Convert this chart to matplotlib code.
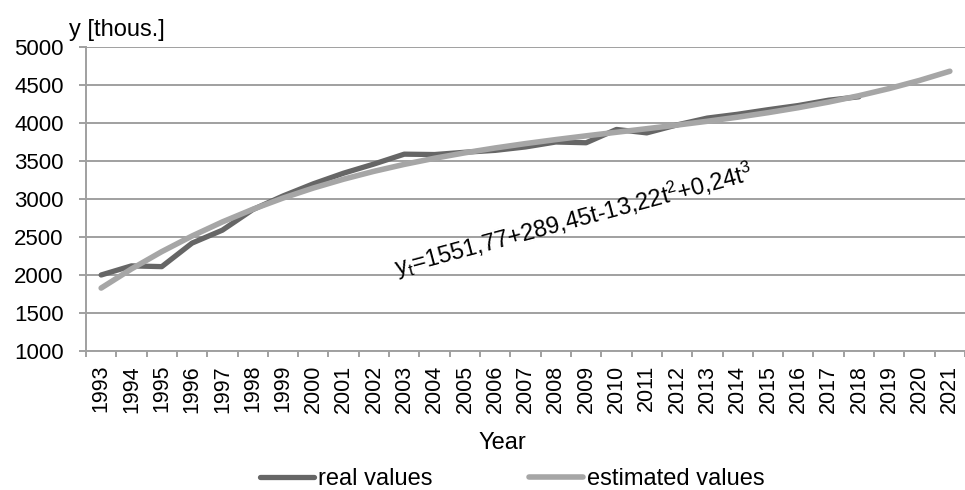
import matplotlib.pyplot as plt
from matplotlib.ticker import FixedLocator

plt.rcParams['font.family'] = ['Liberation Sans', 'DejaVu Sans']
plt.rcParams['mathtext.fontset'] = 'custom'
plt.rcParams['mathtext.rm'] = 'Liberation Sans'
plt.rcParams['mathtext.it'] = 'Liberation Sans'

years = list(range(1993, 2022))
real_values = [2000, 2120, 2110, 2420, 2590, 2860, 3040, 3200, 3340, 3460,
               3590, 3585, 3615, 3640, 3685, 3750, 3740, 3915, 3870, 3975,
               4065, 4115, 4175, 4230, 4300, 4345]
estimated_values = [1828.24, 2079.71, 2307.62, 2513.41, 2698.52, 2864.39, 3012.46,
                    3144.17, 3260.96, 3364.27, 3455.54, 3536.21, 3607.72, 3671.51,
                    3729.02, 3781.69, 3830.96, 3878.27, 3925.06, 3972.77, 4022.84,
                    4076.71, 4135.82, 4201.61, 4275.52, 4358.99, 4453.46, 4560.37,
                    4681.16]
equation = r'$\mathregular{y_t}$=1551,77+289,45t-13,22t$\mathregular{^2}$+0,24t$\mathregular{^3}$'

axis_grey = '#a0a0a0'

fig = plt.figure(figsize=(9.65, 4.9), dpi=100)
ax = fig.add_axes([86 / 965, 1 - 351 / 490, 879 / 965, 304 / 490])

xi = list(range(len(years)))
ax.plot(xi[:len(real_values)], real_values, color='#666666', lw=3.8,
        solid_capstyle='round', label='real values', zorder=3)
ax.plot(xi, estimated_values, color='#a6a6a6', lw=4.0,
        solid_capstyle='round', label='estimated values', zorder=4)

ax.set_xlim(-0.5, len(years) - 0.5)
ax.set_ylim(1000, 5000)
ax.set_yticks(range(1000, 5001, 500))
ax.grid(axis='y', color=axis_grey, lw=1.4)
ax.set_axisbelow(True)

# category labels centred, tick marks between categories
ax.set_xticks(xi)
ax.set_xticklabels([str(y) for y in years], rotation=90, fontsize=15.5)
ax.xaxis.set_minor_locator(FixedLocator([i - 0.5 for i in range(len(years) + 1)]))
ax.tick_params(axis='x', which='major', length=0, pad=10)
ax.tick_params(axis='x', which='minor', length=4.5, width=1.4, color=axis_grey)
ax.tick_params(axis='y', length=5, width=1.4, color=axis_grey, labelsize=16, pad=11)

for side in ['top', 'right']:
    ax.spines[side].set_visible(False)
for side in ['left', 'bottom']:
    ax.spines[side].set_color(axis_grey)
    ax.spines[side].set_linewidth(1.4)

ax.text(15.6, 2720, equation, fontsize=17, rotation=15,
        ha='center', va='center', rotation_mode='anchor')

fig.text(69 / 965, 1 - 30 / 490, 'y [thous.]', fontsize=17, ha='left', va='center')
fig.text(502 / 965, 1 - 443 / 490, 'Year', fontsize=17, ha='center', va='center')

fig.legend(loc='center', bbox_to_anchor=(512 / 965, 1 - 479 / 490), ncol=2,
           frameon=False, fontsize=17, handlelength=2.3, handletextpad=0.15,
           columnspacing=4.1, borderpad=0)

fig.savefig('out.png', dpi=100)
